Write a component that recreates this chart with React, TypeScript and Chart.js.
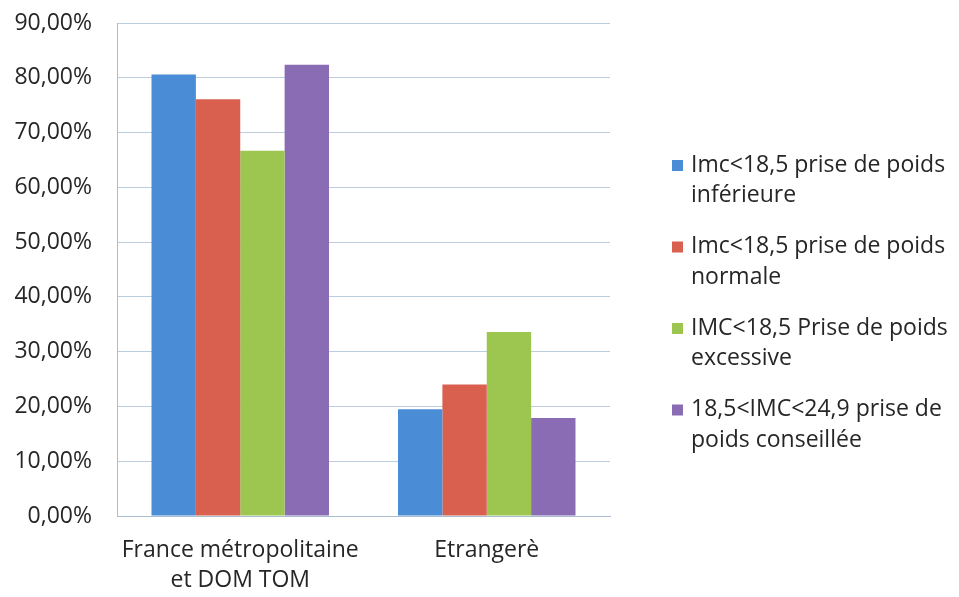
import { useEffect, useRef } from "react";
import { Chart, registerables } from "chart.js";

Chart.register(...registerables);

const categories: string[][] = [["France métropolitaine", "et DOM TOM"], ["Etrangerè"]];

const seriesLabels: string[][] = [
  ["Imc<18,5 prise de poids", "inférieure"],
  ["Imc<18,5 prise de poids", "normale"],
  ["IMC<18,5 Prise de poids", "excessive"],
  ["18,5<IMC<24,9 prise de", "poids conseillée"],
];

const seriesColors = ["#4b8cd6", "#d95f4f", "#9cc64f", "#8a6cb4"];

const inferieure = [80.6, 19.5];
const normale = [76.1, 24.0];
const excessive = [66.7, 33.6];
const conseillee = [82.4, 17.9];

const seriesValues = [inferieure, normale, excessive, conseillee];

const yMin = 0;
const yMax = 90;
const yStep = 10;

const FONT = "'Open Sans', Lato, sans-serif";
const TEXT = "#262626";
const FS = 23;

const legendPlugin = {
  id: "sideLegend",
  afterDraw(chart: any) {
    const ctx = chart.ctx;
    const area = chart.chartArea;
    const x0 = area.right + 62;
    const yStart = area.top + 142;
    const itemGap = 81.5;
    const lineGap = 30.5;
    ctx.save();
    ctx.font = `${FS}px ${FONT}`;
    ctx.textBaseline = "middle";
    ctx.textAlign = "left";
    chart.data.datasets.forEach((ds: any, i: number) => {
      const y = yStart + i * itemGap;
      ctx.fillStyle = ds.backgroundColor;
      ctx.fillRect(x0, y - 5, 11, 11);
      ctx.fillStyle = TEXT;
      const lines: string[] = seriesLabels[i];
      lines.forEach((ln, j) => {
        ctx.fillText(ln, x0 + 19, y + j * lineGap);
      });
    });
    ctx.restore();
  },
};

export default function App() {
  const ref = useRef<HTMLCanvasElement | null>(null);

  useEffect(() => {
    if (!ref.current) return;
    const chart = new Chart(ref.current, {
      type: "bar",
      data: {
        labels: categories,
        datasets: seriesValues.map((vals, i) => ({
          label: seriesLabels[i].join(" "),
          data: vals,
          backgroundColor: seriesColors[i],
          borderWidth: 0,
          categoryPercentage: 0.72,
          barPercentage: 1.0,
        })),
      },
      options: {
        animation: false,
        responsive: false,
        maintainAspectRatio: false,
        layout: { padding: { top: 23, right: 349, left: 0, bottom: 0 } },
        plugins: {
          legend: { display: false },
          tooltip: { enabled: false },
        },
        scales: {
          x: {
            grid: { display: false, drawTicks: false },
            border: { display: true, color: "#a9bed3", width: 1 },
            ticks: {
              color: TEXT,
              font: { family: FONT, size: FS, lineHeight: 1.32 },
              padding: 19,
              maxRotation: 0,
              autoSkip: false,
            },
            afterFit: (s: any) => {
              s.height = 81;
            },
          },
          y: {
            min: yMin,
            max: yMax,
            ticks: {
              stepSize: yStep,
              color: TEXT,
              font: { family: FONT, size: FS },
              padding: 25,
              callback: (v: any) => Number(v).toFixed(2).replace(".", ",") + "%",
            },
            grid: { color: "#bccddd", lineWidth: 1, drawTicks: false },
            border: { display: true, color: "#a9bed3", width: 1 },
            afterFit: (s: any) => {
              s.width = 117;
              s.paddingTop = 12;
              s.paddingBottom = 12;
            },
          },
        },
      },
      plugins: [legendPlugin],
    });
    return () => chart.destroy();
  }, []);

  return (
    <div style={{ position: "fixed", left: 0, top: 0, width: 959, height: 597, background: "#fff" }}>
      <canvas ref={ref} width={959} height={597} style={{ display: "block" }} />
    </div>
  );
}
